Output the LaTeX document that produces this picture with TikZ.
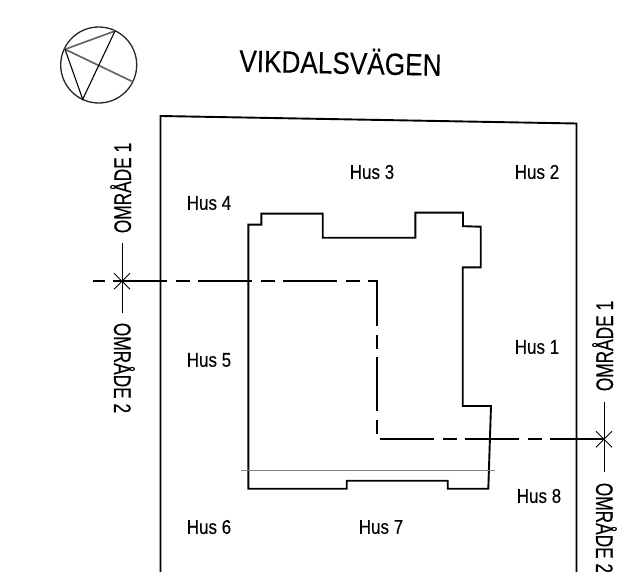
\documentclass[tikz,border=0pt]{standalone}
\usepackage{fontspec}
\setmainfont[FakeStretch=0.85,FakeBold=0.2]{Liberation Sans}
\newfontfamily\areafont[FakeStretch=0.72,FakeBold=0.2]{Liberation Sans}
\tikzset{
  wall/.style={line width=1.9pt,line join=miter,black},
  thinline/.style={line width=0.9pt,black},
  guide/.style={line width=0.9pt,black!50},
  house/.style={font=\fontsize{20}{22}\selectfont,inner sep=0pt,text=black},
  area/.style={font=\areafont\fontsize{24}{26}\selectfont,inner sep=0pt,text=black},
  street/.style={font=\fontsize{30.8}{32}\selectfont,inner sep=0pt,text=black},
  section/.style={line width=1.9pt,black,dash pattern=on 54pt off 8.5pt on 14.5pt off 8pt},
}
\begin{document}
\begin{tikzpicture}[x=1pt,y=-1pt]
\useasboundingbox (0,0) rectangle (637,572);
\clip (0,0) rectangle (637,572);
% compass
\coordinate (cc) at (98.7,65);
\coordinate (ca) at (65,49.3);
\coordinate (cb) at (115,31);
\coordinate (cd) at (82.7,99.3);
\coordinate (ce) at (132.7,81.7);
\draw[thinline,line width=1.3pt,black!85] (cc) circle[radius=38];
\draw[guide,line width=1.7pt,black!60] (ca) -- (cb);
\draw[guide,line width=1.7pt,black!60] (ca) -- (ce);
\draw[thinline,line width=1.1pt] (cb) -- (cd) -- (ca);
% street
\node[street,rotate=-1.2] (street) at (340.5,61) {VIKDALSVÄGEN};
% plot
\draw[wall] (160.5,580) -- (160.5,116) -- (576.5,123.5) -- (576.5,580);
% building
\draw[wall] (248.3,224.7) -- (261.3,224.7) -- (261.3,213.7) -- (322.7,213.7) -- (322.7,237.7)
  -- (415.3,237.7) -- (415.3,212.7) -- (463,212.7) -- (463,226.2) -- (480.7,226.7)
  -- (480.7,267.3) -- (462.7,267.3) -- (462.7,406) -- (491,406) -- (488.3,488.7)
  -- (447.7,488.7) -- (447.7,480.7) -- (346.7,480.7) -- (346.7,488.7) -- (248.3,488.7) -- cycle;
\draw[guide] (240.7,470) -- (495,470);
% section line
\coordinate (s1) at (93.3,281.3);
\coordinate (s2) at (377.3,281.3);
\coordinate (s3) at (377.3,439.3);
\coordinate (s4) at (604,439.3);
\draw[section,dash phase=54pt+8.5pt+2.8pt] (s1) -- (s2) -- (s3) -- (s4);
% cross marks
\coordinate (xl) at (122,281.3);
\coordinate (xr) at (604,439.3);
\draw[thinline] (122,243) -- (122,313);
\draw[thinline] ([shift={(-8,-8)}]xl) -- ([shift={(8,8)}]xl);
\draw[thinline] ([shift={(-8,8)}]xl) -- ([shift={(8,-8)}]xl);
\draw[thinline] (604,401.7) -- (604,471.7);
\draw[thinline] ([shift={(-8,-8)}]xr) -- ([shift={(8,8)}]xr);
\draw[thinline] ([shift={(-8,8)}]xr) -- ([shift={(8,-8)}]xr);
% labels
\node[house] (h1) at (537,347) {Hus 1};
\node[house] (h2) at (537,172) {Hus 2};
\node[house] (h3) at (372,172) {Hus 3};
\node[house] (h4) at (209,203) {Hus 4};
\node[house] (h5) at (209,360) {Hus 5};
\node[house] (h6) at (209,527) {Hus 6};
\node[house] (h7) at (381,527) {Hus 7};
\node[house] (h8) at (539,496) {Hus 8};
\node[area,rotate=90,anchor=base] (a1) at (131,188) {OMRÅDE 1};
\node[area,rotate=-90,anchor=base] (a2) at (114,368) {OMRÅDE 2};
\node[area,rotate=90,anchor=base] (a3) at (613,346) {OMRÅDE 1};
\node[area,rotate=-90,anchor=base] (a4) at (596,528) {OMRÅDE 2};
\end{tikzpicture}
\end{document}
